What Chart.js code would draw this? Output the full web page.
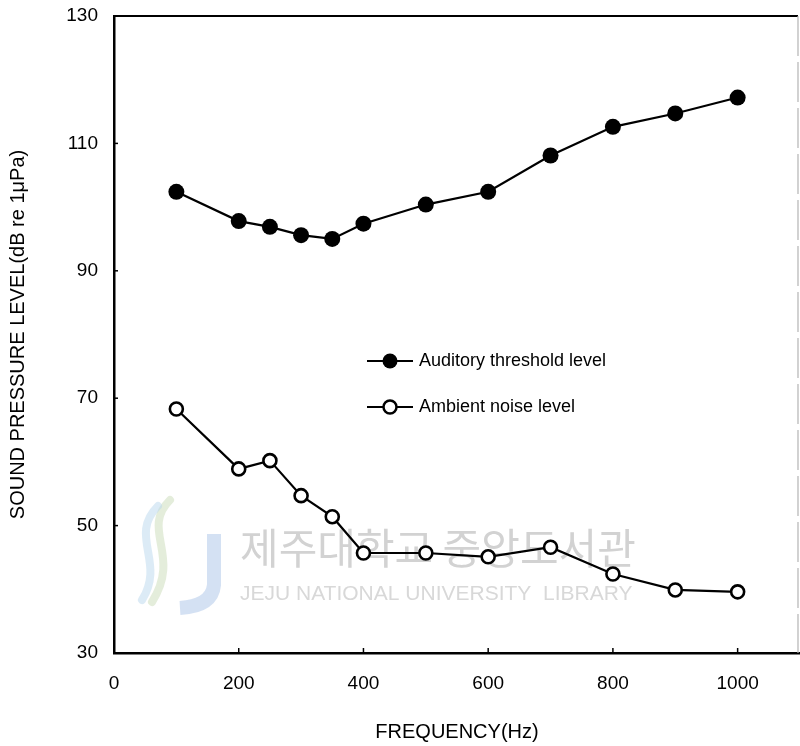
<!DOCTYPE html>
<html>
<head>
    <title>Sound pressure level</title>
    <meta charset="utf-8" />
    <script src="https://cdn.jsdelivr.net/npm/chart.js"></script>
    <style>
        body { margin: 0; background: #fff; }
        .chart-container { width: 800px; height: 746px; }
    </style>
</head>
<body>
    <div class="chart-container">
        <canvas id="splChart" width="800" height="746"></canvas>
    </div>

    <script>
        // 측정 데이터
        const frequencies = [100, 200, 250, 300, 350, 400, 500, 600, 700, 800, 900, 1000];
        const thresholdLevel = [102.4, 97.8, 96.9, 95.6, 95.0, 97.4, 100.4, 102.4, 108.1, 112.6, 114.7, 117.2];
        const ambientLevel = [68.3, 58.9, 60.2, 54.7, 51.4, 45.7, 45.7, 45.1, 46.6, 42.4, 39.9, 39.6];
        const xTickValues = [0, 200, 400, 600, 800, 1000];
        const yTickValues = [30, 50, 70, 90, 110, 130];
        const seriesNames = ['Auditory threshold level', 'Ambient noise level'];

        const FONT = "'Liberation Sans', Arial, Helvetica, sans-serif";

        const toPoints = (ys) => frequencies.map((f, i) => ({ x: f, y: ys[i] }));

        // 축 안쪽 눈금, 위/오른쪽 테두리
        const framePlugin = {
            id: 'frame',
            afterDraw(chart) {
                const { ctx, chartArea: a, scales } = chart;
                ctx.save();
                ctx.strokeStyle = '#000';
                ctx.lineWidth = 1.5;
                xTickValues.slice(1).forEach(v => {
                    const px = scales.x.getPixelForValue(v);
                    ctx.beginPath();
                    ctx.moveTo(px, a.bottom);
                    ctx.lineTo(px, a.bottom - 5);
                    ctx.stroke();
                });
                yTickValues.slice(1, -1).forEach(v => {
                    const py = scales.y.getPixelForValue(v);
                    ctx.beginPath();
                    ctx.moveTo(a.left, py);
                    ctx.lineTo(a.left + 4, py);
                    ctx.stroke();
                });
                ctx.lineWidth = 2;
                ctx.beginPath();
                ctx.moveTo(a.left, a.top);
                ctx.lineTo(a.right - 2, a.top);
                ctx.stroke();
                ctx.strokeStyle = '#b4b4b4';
                ctx.lineWidth = 1.2;
                ctx.setLineDash([40, 6]);
                ctx.beginPath();
                ctx.moveTo(a.right - 2, a.top);
                ctx.lineTo(a.right - 2, a.bottom);
                ctx.stroke();
                ctx.restore();
            }
        };

        // 도서관 워터마크
        const watermarkPlugin = {
            id: 'watermark',
            beforeDatasetsDraw(chart) {
                const { ctx } = chart;
                ctx.save();
                ctx.lineCap = 'round';
                ctx.globalAlpha = 0.5;
                ctx.lineWidth = 8;
                ctx.strokeStyle = '#c9dcb8';
                ctx.beginPath();
                ctx.moveTo(170, 500);
                ctx.bezierCurveTo(140, 530, 182, 555, 152, 602);
                ctx.stroke();
                ctx.strokeStyle = '#b9d7ee';
                ctx.beginPath();
                ctx.moveTo(158, 506);
                ctx.bezierCurveTo(128, 536, 166, 562, 142, 600);
                ctx.stroke();
                ctx.strokeStyle = '#aac4e8';
                ctx.lineWidth = 14;
                ctx.lineCap = 'butt';
                ctx.beginPath();
                ctx.moveTo(214, 534);
                ctx.lineTo(214, 585);
                ctx.quadraticCurveTo(212, 606, 180, 608);
                ctx.stroke();
                ctx.globalAlpha = 1;
                ctx.fillStyle = '#d2d2d2';
                ctx.textBaseline = 'middle';
                ctx.font = "42px 'Noto Sans CJK KR', sans-serif";
                ctx.fillText('제주대학교 중앙도서관', 240, 548);
                ctx.fillStyle = '#d8d8d8';
                ctx.font = '21px ' + FONT;
                ctx.fillText('JEJU NATIONAL UNIVERSITY  LIBRARY', 240, 594);
                ctx.restore();
            }
        };

        // 범례
        const legendPlugin = {
            id: 'customLegend',
            afterDatasetsDraw(chart) {
                const { ctx } = chart;
                const rows = [
                    { y: 361, fill: '#000', r: 7.5 },
                    { y: 407, fill: '#fff', r: 6.5 }
                ];
                ctx.save();
                rows.forEach((row, i) => {
                    ctx.strokeStyle = '#000';
                    ctx.lineWidth = 2.2;
                    ctx.beginPath();
                    ctx.moveTo(367, row.y);
                    ctx.lineTo(413, row.y);
                    ctx.stroke();
                    ctx.beginPath();
                    ctx.arc(390, row.y, row.r, 0, Math.PI * 2);
                    ctx.fillStyle = row.fill;
                    ctx.fill();
                    if (row.fill === '#fff') {
                        ctx.lineWidth = 2.5;
                        ctx.stroke();
                    }
                    ctx.fillStyle = '#000';
                    ctx.font = '18px ' + FONT;
                    ctx.textBaseline = 'middle';
                    ctx.fillText(seriesNames[i], 419, row.y);
                });
                ctx.restore();
            }
        };

        const ctx = document.getElementById('splChart').getContext('2d');
        const splChart = new Chart(ctx, {
            type: 'line',
            data: {
                datasets: [{
                    label: seriesNames[0],
                    data: toPoints(thresholdLevel),
                    borderColor: '#000',
                    borderWidth: 2.2,
                    pointRadius: 8,
                    pointBackgroundColor: '#000',
                    pointBorderColor: '#000',
                    pointBorderWidth: 0,
                    tension: 0
                }, {
                    label: seriesNames[1],
                    data: toPoints(ambientLevel),
                    borderColor: '#000',
                    borderWidth: 2.2,
                    pointRadius: 6.5,
                    pointBackgroundColor: '#fff',
                    pointBorderColor: '#000',
                    pointBorderWidth: 2.6,
                    tension: 0
                }]
            },
            options: {
                responsive: false,
                animation: false,
                layout: { autoPadding: false, padding: { top: 16, right: 0, left: 0, bottom: 0 } },
                plugins: {
                    legend: { display: false },
                    tooltip: { enabled: false }
                },
                scales: {
                    x: {
                        type: 'linear',
                        min: 0,
                        max: 1100,
                        afterBuildTicks: (scale) => { scale.ticks = xTickValues.map(v => ({ value: v })); },
                        afterFit: (scale) => {
                            scale.height = 93;
                            scale.paddingLeft = 0;
                            scale.paddingRight = 0;
                        },
                        grid: { display: false, drawTicks: false },
                        border: { display: true, color: '#000', width: 2.5 },
                        ticks: {
                            color: '#000',
                            padding: 19,
                            maxRotation: 0,
                            callback: (v) => String(v),
                            font: { family: FONT, size: 19 }
                        },
                        title: {
                            display: true,
                            text: 'FREQUENCY(Hz)',
                            color: '#000',
                            padding: { bottom: 2 },
                            font: { family: FONT, size: 20 }
                        }
                    },
                    y: {
                        min: 30,
                        max: 130,
                        afterBuildTicks: (scale) => { scale.ticks = yTickValues.map(v => ({ value: v })); },
                        afterFit: (scale) => {
                            scale.width = 114;
                            scale.paddingTop = 0;
                            scale.paddingBottom = 0;
                        },
                        grid: { display: false, drawTicks: false },
                        border: { display: true, color: '#000', width: 2.5 },
                        ticks: {
                            color: '#000',
                            padding: 16,
                            callback: (v) => String(v),
                            font: { family: FONT, size: 19 }
                        },
                        title: {
                            display: true,
                            text: 'SOUND PRESSURE LEVEL(dB re 1μPa)',
                            color: '#000',
                            padding: { top: 6 },
                            font: { family: FONT, size: 20 }
                        }
                    }
                }
            },
            plugins: [watermarkPlugin, framePlugin, legendPlugin]
        });
    </script>
</body>
</html>
